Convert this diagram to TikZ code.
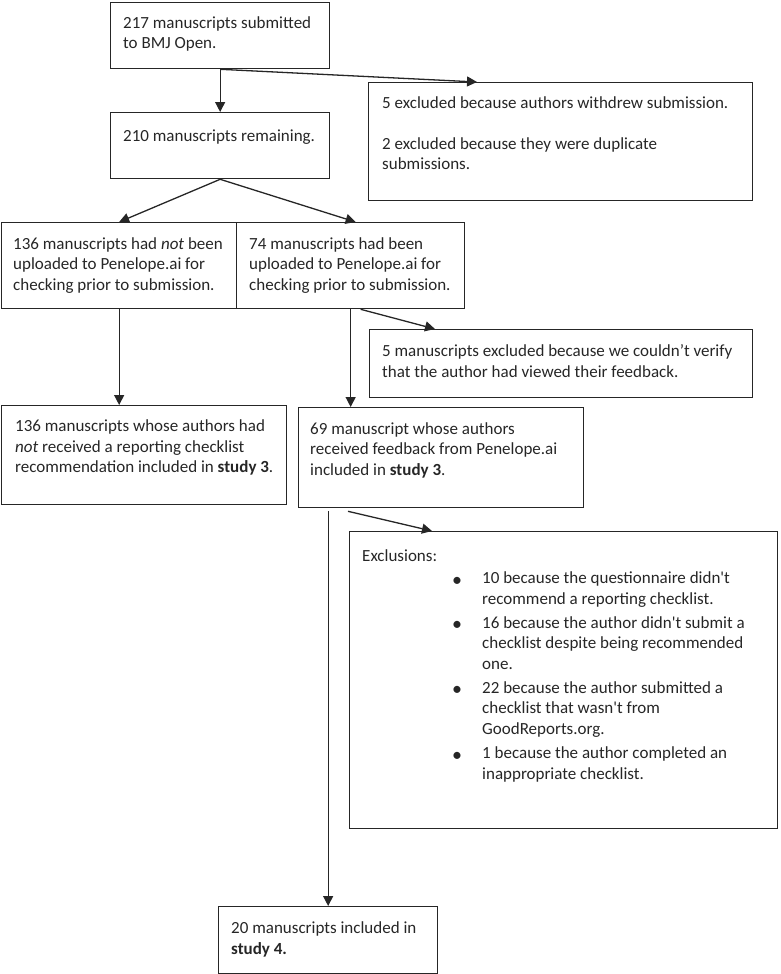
\documentclass[tikz,border=0pt]{standalone}
\usepackage{fontspec}
\setmainfont{Carlito}
\usetikzlibrary{arrows.meta,calc}
\definecolor{ink}{HTML}{262626}
\begin{document}
\begin{tikzpicture}[x=1pt,y=-1pt,
  every node/.style={text=ink},
  box/.style={draw=ink, line width=1.3pt, rectangle, anchor=north west, inner sep=0pt},
  txt/.style={anchor=north west, inner sep=0pt, align=left, yshift=14.35pt,
    font=\fontsize{17}{20.5}\selectfont, execute at begin node=\strut},
  arr/.style={draw=ink, line width=1.3pt, -{Triangle[length=10pt,width=10pt]}},
  bul/.style={anchor=base, inner sep=0pt, font=\fontsize{20}{20.5}\selectfont}]
\useasboundingbox (0,0) rectangle (780,974);
% boxes
\node[box, minimum width=219pt, minimum height=66pt] (A) at (110,2) {};
\node[box, minimum width=219pt, minimum height=66pt] (B) at (110,112) {};
\node[box, minimum width=384pt, minimum height=118pt] (C) at (368,82) {};
\node[box, minimum width=235pt, minimum height=86pt] (D) at (1,222) {};
\node[box, minimum width=228pt, minimum height=86pt] (E) at (236,222) {};
\node[box, minimum width=383pt, minimum height=68pt] (H) at (369,329) {};
\node[box, minimum width=285pt, minimum height=99pt] (F) at (1,405) {};
\node[box, minimum width=285pt, minimum height=100pt] (G) at (298,407) {};
\node[box, minimum width=428pt, minimum height=297pt] (J) at (349,531) {};
\node[box, minimum width=219pt, minimum height=67pt] (K) at (218,906) {};
% texts (positions give the first baseline)
\node[txt] (tA) at (123,30.7) {217 manuscripts submitted\\to BMJ Open.};
\node[txt] (tB) at (123,141) {210 manuscripts remaining.};
\node[txt] (tC) at (382,110.5) {5 excluded because authors withdrew submission.\\[20.5pt]2 excluded because they were duplicate\\submissions.};
\node[txt] (tD) at (13,251.5) {136 manuscripts had \textit{not} been\\uploaded to Penelope.ai for\\checking prior to submission.};
\node[txt] (tE) at (249,251.5) {74 manuscripts had been\\uploaded to Penelope.ai for\\checking prior to submission.};
\node[txt] (tH) at (382,359) {5 manuscripts excluded because we couldn’t verify\\that the author had viewed their feedback.};
\node[txt] (tF) at (15,434) {136 manuscripts whose authors had\\\textit{not} received a reporting checklist\\recommendation included in \textbf{study 3}.};
\node[txt] (tG) at (310,436.5) {69 manuscript whose authors\\received feedback from Penelope.ai\\included in \textbf{study 3}.};
\node[txt] (tJ) at (362,561) {Exclusions:};
\node[bul] (b1) at (457,586) {•};
\node[txt] (i1) at (482,586) {10 because the questionnaire didn\textquotesingle t\\recommend a reporting checklist.};
\node[bul] (b2) at (457,630.5) {•};
\node[txt] (i2) at (482,630.5) {16 because the author didn\textquotesingle t submit a\\checklist despite being recommended\\one.};
\node[bul] (b3) at (457,695.5) {•};
\node[txt] (i3) at (482,695.5) {22 because the author submitted a\\checklist that wasn\textquotesingle t from\\GoodReports.org.};
\node[bul] (b4) at (457,761) {•};
\node[txt] (i4) at (482,761) {1 because the author completed an\\inappropriate checklist.};
\node[txt] (tK) at (231,936) {20 manuscripts included in\\\textbf{study 4.}};
% connectors
\draw[arr] (A.south) -- (B.north);
\draw[arr] (A.south) -- ($(C.north west)+(109,0)$);
\draw[arr] (B.south) -- (D.north);
\draw[arr] (B.south) -- ($(E.north)+(5,0)$);
\draw[arr] (D.south) -- (D.south |- F.north);
\draw[arr] (E.south) -- (E.south |- G.north);
\draw[arr] ($(E.south)+(10,0)$) -- ($(H.north west)+(66,0)$);
\draw[arr] ($(G.south west)+(50,3)$) -- ($(J.north west)+(83,0)$);
\draw[arr] ($(K.north |- G.south)+(0,3)$) -- (K.north);
\end{tikzpicture}
\end{document}
